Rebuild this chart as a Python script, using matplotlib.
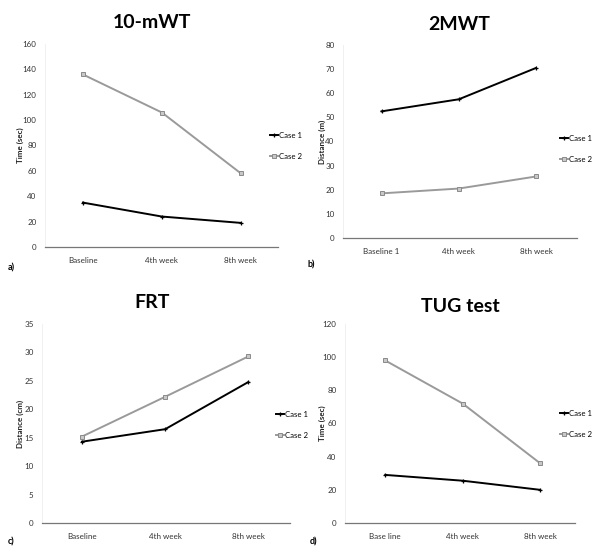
import matplotlib
matplotlib.use("Agg")
import matplotlib.pyplot as plt

W, H = 594, 548
plt.rcParams['font.family'] = ['Lato', 'DejaVu Sans']

categories_a = ["Baseline", "4th week", "8th week"]
categories_b = ["Baseline 1", "4th week", "8th week"]
categories_c = ["Baseline", "4th week", "8th week"]
categories_d = ["Base line", "4th week", "8th week"]

a_case1 = [35, 24, 19]
a_case2 = [136, 106, 58]
b_case1 = [52.5, 57.5, 70.5]
b_case2 = [18.5, 20.5, 25.5]
c_case1 = [14.3, 16.5, 24.8]
c_case2 = [15.2, 22.2, 29.3]
d_case1 = [29, 25.5, 20]
d_case2 = [98, 72, 36]

fig = plt.figure(figsize=(W/100, H/100), dpi=100)
fig.patch.set_facecolor('white')

panels = [
    dict(title="10-mWT", cats=categories_a, s1=a_case1, s2=a_case2, ylabel="Time (sec)",
         box=(45, 278, 44, 247), ylim=(0, 160), yt=range(0, 161, 20), xl=(-0.48, 2.47),
         title_y=22, title_x=152, ylab_x=20, leg=(270, 146), letter="a)", let_xy=(8, 268)),
    dict(title="2MWT", cats=categories_b, s1=b_case1, s2=b_case2, ylabel="Distance (m)",
         box=(343, 577, 45, 238), ylim=(0, 80), yt=range(0, 81, 10), xl=(-0.5, 2.53),
         title_y=25, title_x=459, ylab_x=322, leg=(560, 149), letter="b)", let_xy=(308, 265)),
    dict(title="FRT", cats=categories_c, s1=c_case1, s2=c_case2, ylabel="Distance (cm)",
         box=(42, 290, 324, 523), ylim=(0, 35), yt=range(0, 36, 5), xl=(-0.48, 2.5),
         title_y=303, title_x=152, ylab_x=20, leg=(276, 425), letter="c)", let_xy=(8, 542)),
    dict(title="TUG test", cats=categories_d, s1=d_case1, s2=d_case2, ylabel="Time (sec)",
         box=(345, 575, 324, 523), ylim=(0, 120), yt=range(0, 121, 20), xl=(-0.52, 2.45),
         title_y=306, title_x=460, ylab_x=322, leg=(560, 424), letter="d)", let_xy=(310, 542)),
]

for p in panels:
    l, r, t, b = p["box"]
    ax = fig.add_axes([l/W, 1-b/H, (r-l)/W, (b-t)/H])
    x = range(len(p["cats"]))
    ax.plot(x, p["s1"], color='black', lw=1.4, marker='+', ms=3.5, mew=0.9, label="Case 1")
    ax.plot(x, p["s2"], color='#9a9a9a', lw=1.4, marker='s', ms=2.6, mfc='#c8c8c8', mec='#8a8a8a',
            mew=0.7, label="Case 2")
    ax.set_xlim(*p["xl"])
    ax.set_ylim(*p["ylim"])
    ax.set_yticks(list(p["yt"]))
    ax.set_xticks(list(x))
    ax.set_xticklabels(p["cats"])
    ax.tick_params(axis='both', length=0, labelsize=5.8, colors='#333333')
    ax.tick_params(axis='y', pad=6)
    ax.tick_params(axis='x', pad=7)
    for s in ['top', 'right']:
        ax.spines[s].set_visible(False)
    ax.spines['left'].set_color('#eeeeee')
    ax.spines['left'].set_linewidth(0.6)
    ax.spines['bottom'].set_color('#777777')
    ax.spines['bottom'].set_linewidth(0.9)
    fig.text(p["ylab_x"]/W, 1-((t+b)/2)/H, p["ylabel"], rotation=90, ha='center', va='center',
             fontsize=5.8, fontweight='bold', color='#222222')
    fig.text(p["title_x"]/W, 1-p["title_y"]/H, p["title"], ha='center', va='center',
             fontsize=14, fontweight='bold', color='black')
    lx, ly = p["leg"]
    ax.legend(loc='center left', bbox_to_anchor=(lx/W, 1-ly/H), bbox_transform=fig.transFigure,
              frameon=False, fontsize=5.6, handlelength=1.0, handletextpad=0.2, labelspacing=1.8,
              borderpad=0, borderaxespad=0)
    fig.text(p["let_xy"][0]/W, 1-p["let_xy"][1]/H, p["letter"], ha='left', va='center',
             fontsize=6.5, fontweight='bold', color='black')

fig.savefig("out.png", dpi=100, facecolor='white')
